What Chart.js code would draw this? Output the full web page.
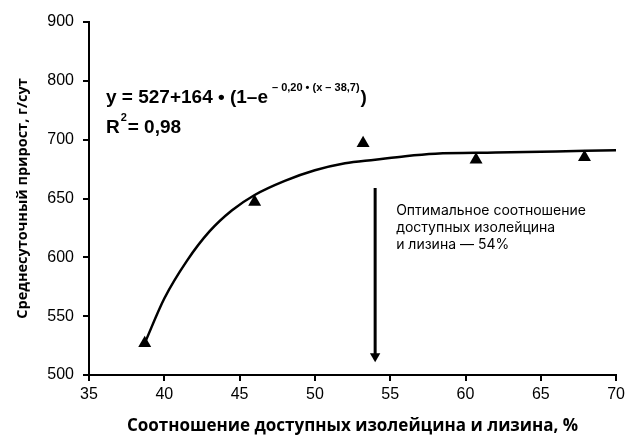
<!DOCTYPE html>
<html>
<head>
<meta charset="utf-8">
<script src="https://cdn.jsdelivr.net/npm/chart.js@4.4.1/dist/chart.umd.min.js"></script>
<style>
  html, body { margin: 0; padding: 0; background: #fff; }
  #wrap { width: 629px; height: 436px; }
</style>
</head>
<body>
<div id="wrap"><canvas id="chart" width="629" height="436"></canvas></div>
<script>
// y axis is broken: 50 per step up to 700, then 100 per step
const yTickLabels = [500, 550, 600, 650, 700, 800, 900];
const xTicks = [35, 40, 45, 50, 55, 60, 65, 70];

// observed points (triangles)
const obsX = [38.7, 46, 53.2, 60.7, 67.9];
const obsY = [527, 647, 697, 683, 685];

// fitted curve
const fitX = [38.7, 40, 41.5, 43, 44.5, 46, 48, 50, 52, 54, 56, 58, 62, 66, 70];
const fitY = [527, 565, 597, 622, 640, 653, 665, 674, 680, 683, 686, 688, 689, 690, 691];

// arrow marking the optimum
const arrowX = [54, 54];
const arrowY = [659, 516];

function toAxis(v) {
  for (let i = 0; i < yTickLabels.length - 1; i++) {
    const a = yTickLabels[i], b = yTickLabels[i + 1];
    if (v <= b) return i + (v - a) / (b - a);
  }
  return yTickLabels.length - 1;
}

const pts = (xs, ys) => xs.map((x, i) => ({ x, y: toAxis(ys[i]) }));

const EQ_FONT = '"Liberation Sans Narrow", "Liberation Sans", sans-serif';

const textPlugin = {
  id: 'texts',
  afterDraw(chart) {
    const ctx = chart.ctx;
    ctx.save();
    ctx.fillStyle = '#000';
    ctx.textBaseline = 'alphabetic';
    // equation
    ctx.font = 'bold 19px ' + EQ_FONT;
    let x = 106;
    const main = 'y = 527+164 \u2022 (1\u2013e';
    ctx.fillText(main, x, 103);
    x += ctx.measureText(main).width + 4;
    ctx.font = 'bold 11px ' + EQ_FONT;
    const sup = '\u2013 0,20 \u2022 (x \u2013 38,7)';
    ctx.fillText(sup, x, 91);
    x += ctx.measureText(sup).width + 1;
    ctx.font = 'bold 19px ' + EQ_FONT;
    ctx.fillText(')', x, 103);
    // R^2
    ctx.fillText('R', 106, 133);
    const rw = ctx.measureText('R').width;
    ctx.font = 'bold 11px ' + EQ_FONT;
    ctx.fillText('2', 106 + rw + 1, 121);
    ctx.font = 'bold 19px ' + EQ_FONT;
    ctx.fillText('= 0,98', 106 + rw + 8, 133);
    // annotation
    ctx.font = '14px Inter, "Noto Sans", sans-serif';
    const ax = chart.scales.x.getPixelForValue(54) + 21;
    ctx.fillText('Оптимальное соотношение', ax, 215);
    ctx.fillText('доступных изолейцина', ax, 232);
    ctx.fillText('и лизина \u2014 54%', ax, 249);
    ctx.restore();
  }
};

new Chart(document.getElementById('chart'), {
  type: 'scatter',
  data: {
    datasets: [
      {
        data: pts(fitX, fitY),
        showLine: true,
        borderColor: '#000',
        borderWidth: 2.5,
        pointRadius: 0,
        tension: 0.4,
        cubicInterpolationMode: 'monotone'
      },
      {
        data: pts(obsX, obsY),
        pointStyle: 'triangle',
        pointRadius: 7.5,
        backgroundColor: '#000',
        borderColor: '#000',
        borderWidth: 0
      },
      {
        data: pts(arrowX, arrowY),
        showLine: true,
        borderColor: '#000',
        borderWidth: 3,
        pointStyle: 'triangle',
        pointRotation: 180,
        pointRadius: [0, 6],
        backgroundColor: '#000',
        pointBorderWidth: 0
      }
    ]
  },
  options: {
    responsive: false,
    animation: false,
    layout: { padding: { top: 22, right: 0, left: 0, bottom: 0 } },
    plugins: { legend: { display: false }, tooltip: { enabled: false } },
    scales: {
      x: {
        type: 'linear',
        min: 35,
        max: 70,
        afterBuildTicks: s => { s.ticks = xTicks.map(v => ({ value: v })); },
        afterFit: s => { s.height = 61; },
        border: { color: '#000', width: 2 },
        grid: { display: true, drawOnChartArea: false, drawTicks: true, tickLength: 6, color: '#000', lineWidth: 2 },
        ticks: { color: '#000', font: { family: '"Liberation Sans", sans-serif', size: 16 }, padding: 4, maxRotation: 0 },
        title: {
          display: true,
          text: 'Соотношение доступных изолейцина и лизина, %',
          color: '#000',
          font: { family: '"Open Sans", sans-serif', size: 17, weight: 'bold' },
          padding: { top: 0, bottom: 0 }
        }
      },
      y: {
        type: 'linear',
        min: 0,
        max: yTickLabels.length - 1,
        afterBuildTicks: s => { s.ticks = yTickLabels.map((v, i) => ({ value: i })); },
        afterFit: s => { s.width = 89; },
        border: { color: '#000', width: 2 },
        grid: { display: true, drawOnChartArea: false, drawTicks: true, tickLength: 6, color: '#000', lineWidth: 2 },
        ticks: {
          color: '#000',
          font: { family: '"Liberation Sans", sans-serif', size: 16 },
          padding: 9,
          callback: (v) => yTickLabels[v]
        },
        title: {
          display: true,
          text: 'Среднесуточный прирост, г/сут',
          color: '#000',
          font: { family: '"Open Sans", sans-serif', size: 14.5, weight: 'bold' },
          padding: { top: 14, bottom: 0 }
        }
      }
    }
  },
  plugins: [textPlugin]
});
</script>
</body>
</html>
